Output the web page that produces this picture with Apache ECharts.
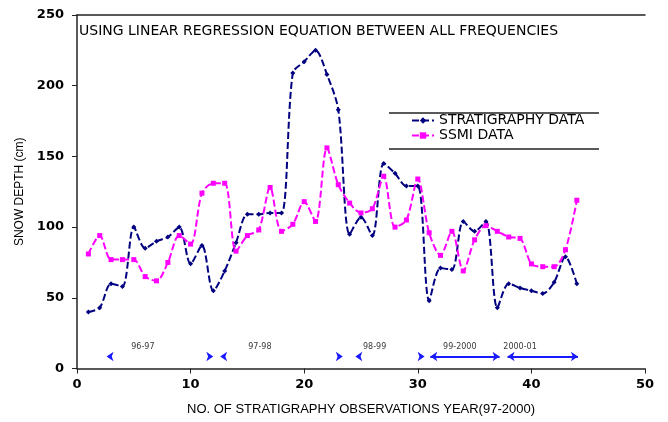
<!DOCTYPE html>
<html><head><meta charset="utf-8">
<script src="https://cdn.jsdelivr.net/npm/echarts@6/dist/echarts.min.js"></script>
<style>html,body{margin:0;padding:0;background:#fff}#c{width:668px;height:422px}</style>
</head><body><div id="c"></div>
<script>
// ---- data ----
const obsNo = [1,2,3,4,5,6,7,8,9,10,11,12,13,14,15,16,17,18,19,20,21,22,23,24,25,26,27,28,29,30,31,32,33,34,35,36,37,38,39,40,41,42,43,44];
const stratigraphy = [40,43,60,58,100,85,90,93,100,74,87,55,69,89,109,109,110,110,209,217,225,208,183,95,107,94,145,138,129,129,48,71,70,104,97,104,43,60,57,55,53,61,79,60];
const ssmi = [81,94,77,77,77,65,62,75,94,88,124,131,131,83,94,98,128,97,102,118,104,156,130,117,110,113,136,100,105,134,96,80,97,69,91,101,97,93,92,74,72,72,84,119];
const periodLabels = ['96-97','97-98','98-99','99-2000','2000-01'];
const periodStart = [2.6, 12.6, 24.5, 31.1, 37.9];
const periodEnd = [12.0, 23.4, 30.6, 37.2, 44.1];
const periodLabelX = [5.8, 16.1, 26.2, 33.7, 39.0];
const periodLineShown = [false, false, false, true, true];
const arrowLevel = 8.5;
const labelLevel = 15.5;
const xTicks = [0, 10, 20, 30, 40, 50];
const yTicks = [0, 50, 100, 150, 200, 250];
const titleText = 'USING LINEAR REGRESSION EQUATION BETWEEN ALL FREQUENCIES';

const chart = echarts.init(document.getElementById('c'), null, {renderer: 'canvas'});
const tickFont = {fontFamily: 'DejaVu Sans', fontWeight: 'bold', fontSize: 13, color: '#000'};
const axisLine = {show: true, onZero: false, lineStyle: {color: '#222', width: 1.5}};

chart.setOption({
  animation: false,
  backgroundColor: '#fff',
  grid: {left: 77, right: 23, top: 15, bottom: 53.5},
  title: {
    text: titleText, left: 74, top: 19,
    textStyle: {fontFamily: 'DejaVu Sans', fontSize: 14, fontWeight: 'normal', color: '#000'}
  },
  legend: {
    orient: 'vertical', left: 406, top: 108, itemWidth: 22, itemHeight: 8, itemGap: 0,
    textStyle: {fontFamily: 'DejaVu Sans', fontSize: 14, lineHeight: 15, color: '#000'},
    data: ['STRATIGRAPHY DATA', 'SSMI DATA']
  },
  graphic: [
    {type: 'line', shape: {x1: 389, y1: 113, x2: 599, y2: 113}, style: {stroke: '#222', lineWidth: 1.5}},
    {type: 'line', shape: {x1: 389, y1: 149, x2: 599, y2: 149}, style: {stroke: '#222', lineWidth: 1.5}}
  ],
  xAxis: [{
    type: 'value', min: xTicks[0], max: xTicks[xTicks.length - 1], interval: 10,
    name: 'NO. OF STRATIGRAPHY OBSERVATIONS YEAR(97-2000)', nameLocation: 'middle', nameGap: 34,
    nameTextStyle: {fontFamily: 'Liberation Sans', fontSize: 13, color: '#000'},
    axisLine: axisLine,
    axisTick: {show: true, inside: false, length: 5, lineStyle: {color: '#222'}},
    axisLabel: Object.assign({margin: 10}, tickFont),
    splitLine: {show: false}
  }, {
    type: 'value', position: 'top', min: xTicks[0], max: xTicks[xTicks.length - 1],
    axisLine: axisLine, axisTick: {show: false}, axisLabel: {show: false}, splitLine: {show: false}
  }],
  yAxis: {
    type: 'value', min: yTicks[0], max: yTicks[yTicks.length - 1], interval: 50,
    name: 'SNOW DEPTH (cm)', nameLocation: 'middle', nameGap: 51,
    nameTextStyle: {fontFamily: 'Liberation Sans', fontSize: 12, color: '#000'},
    axisLine: axisLine,
    axisTick: {show: true, inside: false, length: 5, lineStyle: {color: '#222'}},
    axisLabel: Object.assign({margin: 13}, tickFont),
    splitLine: {show: false}
  },
  series: [
    {
      name: 'STRATIGRAPHY DATA', type: 'line', smooth: 0.3,
      data: obsNo.map((x, i) => [x, stratigraphy[i]]),
      symbol: 'diamond', symbolSize: 5,
      itemStyle: {color: '#000080'},
      lineStyle: {color: '#000080', width: 2, type: [7, 3]}
    },
    {
      name: 'SSMI DATA', type: 'line', smooth: 0.3,
      data: obsNo.map((x, i) => [x, ssmi[i]]),
      symbol: 'rect', symbolSize: 5,
      itemStyle: {color: '#ff00ff'},
      lineStyle: {color: '#ff00ff', width: 2, type: [7, 3]}
    },
    {
      name: 'periods', type: 'lines', coordinateSystem: 'cartesian2d',
      symbol: ['arrow', 'arrow'], symbolSize: 7,
      lineStyle: {color: '#1a1aff', width: 2, opacity: 1},
      data: periodStart.map((s, i) => ({
        coords: [[s, arrowLevel], [periodEnd[i], arrowLevel]],
        lineStyle: {width: periodLineShown[i] ? 2 : 0}
      })),
      silent: true
    },
    {
      name: 'periodLabels', type: 'scatter', symbolSize: 0,
      data: periodLabelX.map((x, i) => ({value: [x, labelLevel], name: periodLabels[i]})),
      label: {show: true, position: 'inside', formatter: p => p.name,
        fontFamily: 'DejaVu Sans', fontSize: 8, color: '#000'},
      silent: true
    }
  ]
});
</script>
</body></html>
